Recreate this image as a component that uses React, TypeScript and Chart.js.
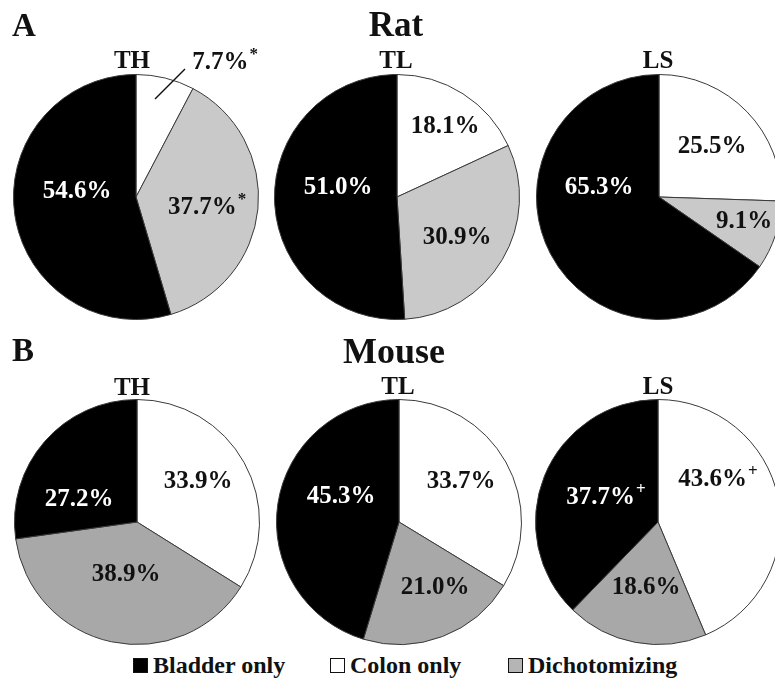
import React, { useEffect, useRef } from "react";
import { Chart, registerables } from "chart.js";

Chart.register(...registerables);

// ---------- data ----------
const categories = ["Colon only", "Dichotomizing", "Bladder only"];
const panelTitles = ["Rat", "Mouse"];
const panelLetters = ["A", "B"];
const regionLabels = ["TH", "TL", "LS"];

const ratTH = [7.7, 37.7, 54.6];
const ratTL = [18.1, 30.9, 51.0];
const ratLS = [25.5, 9.1, 65.3];
const mouseTH = [33.9, 38.9, 27.2];
const mouseTL = [33.7, 21.0, 45.3];
const mouseLS = [43.6, 18.6, 37.7];

const ratTHMarks = ["*", "*", ""];
const noMarks = ["", "", ""];
const mouseLSMarks = ["+", "", "+"];

// ---------- styles / layout ----------
const FONT = "'Liberation Serif', 'Times New Roman', Times, serif";
const ratColors = ["#ffffff", "#c9c9c9", "#000000"];
const mouseColors = ["#ffffff", "#a8a8a8", "#000000"];
const legendColors = ["#000000", "#ffffff", "#b5b5b5"];
const legendOrder = [2, 0, 1];

const CANVAS_W = 262;
const CANVAS_H = 290;
const PAD = { top: 43, bottom: 1, left: 8, right: 8 };
const CX_IN = PAD.left + 123;
const CY_IN = PAD.top + 123;

type Place = { dx: number; dy: number; line?: number[] };

const pies = [
  { values: ratTH, marks: ratTHMarks, colors: ratColors, cx: 136, cy: 197,
    places: [ { dx: 89, dy: -134, line: [19, -98, 49, -128] }, { dx: 71, dy: 11 }, { dx: -59, dy: -5 } ] as Place[] },
  { values: ratTL, marks: noMarks, colors: ratColors, cx: 397, cy: 197,
    places: [ { dx: 48, dy: -70 }, { dx: 60, dy: 41 }, { dx: -59, dy: -9 } ] as Place[] },
  { values: ratLS, marks: noMarks, colors: ratColors, cx: 659, cy: 197,
    places: [ { dx: 53, dy: -50 }, { dx: 85, dy: 25 }, { dx: -60, dy: -9 } ] as Place[] },
  { values: mouseTH, marks: noMarks, colors: mouseColors, cx: 137, cy: 522,
    places: [ { dx: 61, dy: -40 }, { dx: -11, dy: 53 }, { dx: -58, dy: -22 } ] as Place[] },
  { values: mouseTL, marks: noMarks, colors: mouseColors, cx: 399, cy: 522,
    places: [ { dx: 62, dy: -40 }, { dx: 36, dy: 66 }, { dx: -58, dy: -25 } ] as Place[] },
  { values: mouseLS, marks: mouseLSMarks, colors: mouseColors, cx: 658, cy: 522,
    places: [ { dx: 60, dy: -42 }, { dx: -12, dy: 66 }, { dx: -52, dy: -24 } ] as Place[] },
];

const regionPos = [
  { x: 132, baseline: 68 }, { x: 396, baseline: 68 }, { x: 658, baseline: 68 },
  { x: 132, baseline: 395 }, { x: 398, baseline: 394 }, { x: 658, baseline: 394 },
];

const sliceLabelPlugin = {
  id: "sliceLabels",
  afterDatasetsDraw(chart: any, _args: any, opts: any) {
    const meta = chart.getDatasetMeta(0);
    const ds = chart.data.datasets[0];
    const ctx = chart.ctx;
    ctx.save();
    meta.data.forEach((arc: any, i: number) => {
      const p: Place = opts.places[i];
      const { x, y } = arc.getProps(["x", "y"], true);
      const text = Number(ds.data[i]).toFixed(1) + "%";
      const mark = opts.marks[i];
      const inside = !p.line;
      const color = inside && i === 2 ? "#ffffff" : "#111111";
      ctx.font = `bold 25px ${FONT}`;
      const w1 = ctx.measureText(text).width;
      ctx.font = `bold 17px ${FONT}`;
      const w2 = mark ? ctx.measureText(mark).width + 1 : 0;
      const left = x + p.dx - (w1 + w2) / 2;
      const ty = y + p.dy;
      ctx.fillStyle = color;
      ctx.textAlign = "left";
      ctx.textBaseline = "middle";
      ctx.font = `bold 25px ${FONT}`;
      ctx.fillText(text, left, ty);
      if (mark) {
        ctx.font = `bold 17px ${FONT}`;
        ctx.fillText(mark, left + w1 + 1, ty - 8);
      }
      if (p.line) {
        ctx.strokeStyle = "#111111";
        ctx.lineWidth = 1.5;
        ctx.beginPath();
        ctx.moveTo(x + p.line[0], y + p.line[1]);
        ctx.lineTo(x + p.line[2], y + p.line[3]);
        ctx.stroke();
      }
    });
    ctx.restore();
  },
};

function Pie({ cfg }: { cfg: (typeof pies)[number] }) {
  const ref = useRef<HTMLCanvasElement>(null);
  useEffect(() => {
    if (!ref.current) return;
    const chart = new Chart(ref.current, {
      type: "pie",
      data: {
        labels: categories,
        datasets: [
          {
            data: cfg.values,
            backgroundColor: cfg.colors,
            borderColor: "#3a3a3a",
            borderWidth: 1,
          },
        ],
      },
      options: {
        animation: false,
        responsive: false,
        events: [],
        layout: { padding: PAD },
        plugins: {
          legend: { display: false },
          tooltip: { enabled: false },
          title: { display: false },
          sliceLabels: { places: cfg.places, marks: cfg.marks },
        } as any,
      },
      plugins: [sliceLabelPlugin],
    });
    return () => chart.destroy();
  }, [cfg]);
  return (
    <canvas
      ref={ref}
      width={CANVAS_W}
      height={CANVAS_H}
      style={{
        position: "absolute",
        left: cfg.cx - CX_IN,
        top: cfg.cy - CY_IN,
        width: CANVAS_W,
        height: CANVAS_H,
      }}
    />
  );
}

function Text({ x, baseline, size, children, align = "center" }: any) {
  const top = baseline - 0.8375 * size;
  const style: any = {
    position: "absolute",
    top,
    fontFamily: FONT,
    fontWeight: "bold",
    fontSize: size,
    lineHeight: `${size}px`,
    whiteSpace: "nowrap",
    color: "#111",
  };
  if (align === "center") {
    style.left = x - 150;
    style.width = 300;
    style.textAlign = "center";
  } else {
    style.left = x;
  }
  return <div style={style}>{children}</div>;
}

export default function App() {
  return (
    <div
      style={{
        position: "fixed",
        left: 0,
        top: 0,
        width: 775,
        height: 684,
        overflow: "hidden",
        background: "#ffffff",
      }}
    >
      {pies.map((p, i) => (
        <Pie key={i} cfg={p} />
      ))}
      <Text x={12} baseline={37} size={33} align="left">{panelLetters[0]}</Text>
      <Text x={12} baseline={362} size={33} align="left">{panelLetters[1]}</Text>
      <Text x={396} baseline={36} size={35}>{panelTitles[0]}</Text>
      <Text x={394} baseline={363} size={36}>{panelTitles[1]}</Text>
      {regionPos.map((r, i) => (
        <Text key={i} x={r.x} baseline={r.baseline} size={25}>
          {regionLabels[i % 3]}
        </Text>
      ))}
      {legendOrder.map((ci, k) => {
        const lefts = [133, 330, 508];
        return (
          <div key={k}>
            <div
              style={{
                position: "absolute",
                left: lefts[k],
                top: 658,
                width: 15,
                height: 15,
                boxSizing: "border-box",
                background: legendColors[k],
                border: "1.5px solid #111",
              }}
            />
            <Text x={lefts[k] + 20} baseline={673} size={24} align="left">
              {categories[ci]}
            </Text>
          </div>
        );
      })}
    </div>
  );
}
